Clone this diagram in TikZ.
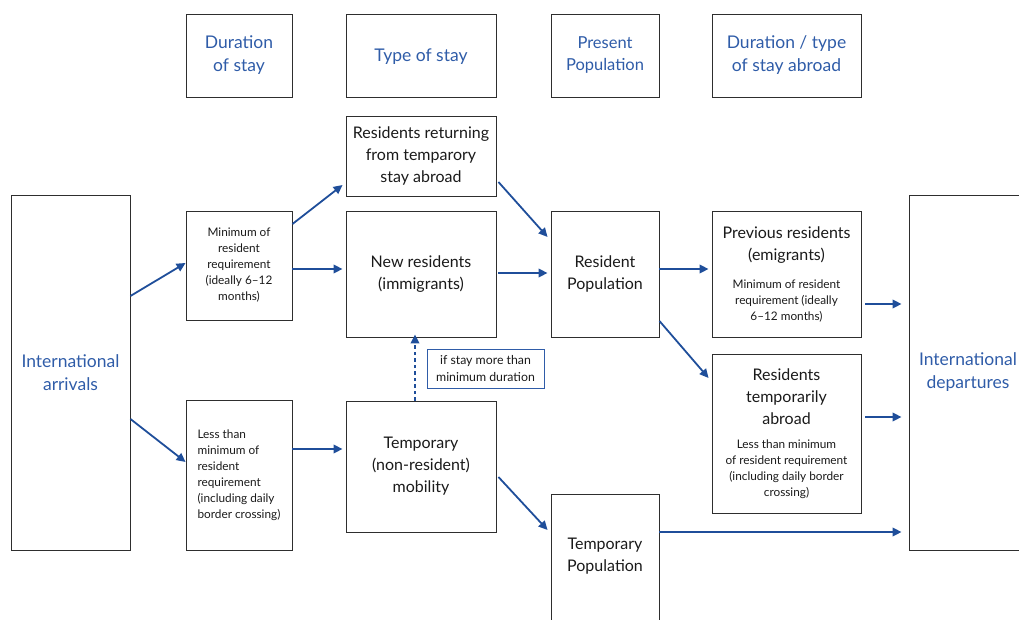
\documentclass[tikz,border=0pt]{standalone}
\usepackage{fontspec}
\setmainfont{Lato}
\usetikzlibrary{arrows.meta}
\definecolor{tblue}{HTML}{2F5CA8}
\definecolor{ablue}{HTML}{1F4E9A}
\definecolor{bgray}{HTML}{2E2E2E}
\definecolor{tgray}{HTML}{1A1A1A}
\newcommand\bigf{\fontsize{17.5}{23}\selectfont}
\newcommand\medf{\fontsize{16}{22}\selectfont}
\newcommand\smf{\fontsize{11.8}{16}\selectfont}
\begin{document}
\begin{tikzpicture}[x=1pt,y=-1pt,
  box/.style={draw=bgray, line width=0.9pt, inner sep=2pt, align=center, text=tgray},
  head/.style={box, text=tblue, font=\bigf},
  mid/.style={box, font=\medf},
  small/.style={box, font=\smf},
  arr/.style={draw=ablue, line width=1.8pt, -{Triangle[length=9pt,width=8.5pt]}},
  darr/.style={arr, dash pattern=on 3.5pt off 3pt}]
\useasboundingbox (0,0) rectangle (1019,620);

% header boxes
\node[head, minimum width=106, minimum height=83] (h1) at (239,55.5) {Duration\\of stay};
\node[head, minimum width=150, minimum height=83, text depth=0pt] (h2) at (421,55.5) {Type of stay};
\node[head, minimum width=108, minimum height=83, font=\fontsize{16.5}{22}\selectfont] (h3) at (605,55.5) {Present\\Population};
\node[head, minimum width=149, minimum height=83] (h4) at (786.5,55.5) {Duration / type\\of stay abroad};

% side boxes
\node[head, minimum width=119, minimum height=355] (arrv) at (70.5,372.5) {International\\arrivals};
\node[head, minimum width=118, minimum height=355] (dep) at (968,372.5) {International\\departures};

% duration boxes
\node[small, minimum width=106, minimum height=109] (min) at (239,265.5) {Minimum of\\resident\\requirement\\(ideally 6--12\\months)};
\node[small, minimum width=106, minimum height=150, align=left] (less) at (239,475) {Less than\\minimum of\\resident\\requirement\\(including daily\\border crossing)};

% type of stay
\node[mid, minimum width=150, minimum height=80] (ret) at (421,156) {Residents returning\\from temparory\\stay abroad};
\node[mid, minimum width=150, minimum height=126] (newr) at (421,274) {New residents\\(immigrants)};
\node[mid, minimum width=150, minimum height=131] (tmob) at (421,466.5) {Temporary\\(non-resident)\\mobility};
\node[box, draw=tblue, font=\fontsize{12.3}{16.5}\selectfont, minimum width=117, minimum height=39] (ifs) at (485.5,368.5) {if stay more than\\minimum duration};

% present population
\node[mid, minimum width=108, minimum height=126] (rpop) at (605,274) {Resident\\Population};
\node[box, minimum width=108, minimum height=140, anchor=north] (tpop) at (605,494) {};
\node[font=\medf, align=center, text=tgray] (tpoptxt) at (605,556) {Temporary\\Population};

% abroad
\node[box, minimum width=149, minimum height=126] (prev) at (786.5,274)
  {{\medf\begin{tabular}{@{}c@{}}Previous residents\\(emigrants)\end{tabular}}\\[9pt]
   {\smf\begin{tabular}{@{}c@{}}Minimum of resident\\requirement (ideally\\6--12 months)\end{tabular}}};
\node[box, minimum width=149, minimum height=159] (tabr) at (786.5,433.5)
  {{\medf\begin{tabular}{@{}c@{}}Residents\\temporarily\\abroad\end{tabular}}\\[5pt]
   {\smf\begin{tabular}{@{}c@{}}Less than minimum\\of resident requirement\\(including daily border\\crossing)\end{tabular}}};

% arrows
\draw[arr] (arrv.east |- 0,296) -- (min.west |- 0,263);
\draw[arr] (arrv.east |- 0,419) -- (less.west |- 0,462);
\draw[arr] (min.east |- 0,224) -- ([xshift=-3pt]ret.west |- 0,185);
\draw[arr] (min.east |- 0,269) -- ([xshift=-3pt]newr.west |- 0,269);
\draw[arr] (less.east |- 0,449) -- ([xshift=-3pt]tmob.west |- 0,449);
\draw[arr] ([xshift=2pt]ret.east |- 0,182) -- ([xshift=-3pt]rpop.west |- 0,237);
\draw[arr] ([xshift=2pt]newr.east |- 0,273) -- ([xshift=-3pt]rpop.west |- 0,273);
\draw[darr] (tmob.north -| 415,0) -- ([yshift=3pt]newr.south -| 415,0);
\draw[arr] ([xshift=2pt]tmob.east |- 0,477) -- ([xshift=-3pt]tpop.west |- 0,530);
\draw[arr] (rpop.east |- 0,269) -- ([xshift=-3pt]prev.west |- 0,269);
\draw[arr] (rpop.east |- 0,321) -- ([xshift=-3pt]tabr.west |- 0,378);
\draw[arr] ([xshift=4pt]prev.east |- 0,304) -- ([xshift=-7pt]dep.west |- 0,304);
\draw[arr] ([xshift=4pt]tabr.east |- 0,417) -- ([xshift=-7pt]dep.west |- 0,417);
\draw[arr] (tpop.east |- 0,532) -- ([xshift=-7pt]dep.west |- 0,532);
\end{tikzpicture}
\end{document}
